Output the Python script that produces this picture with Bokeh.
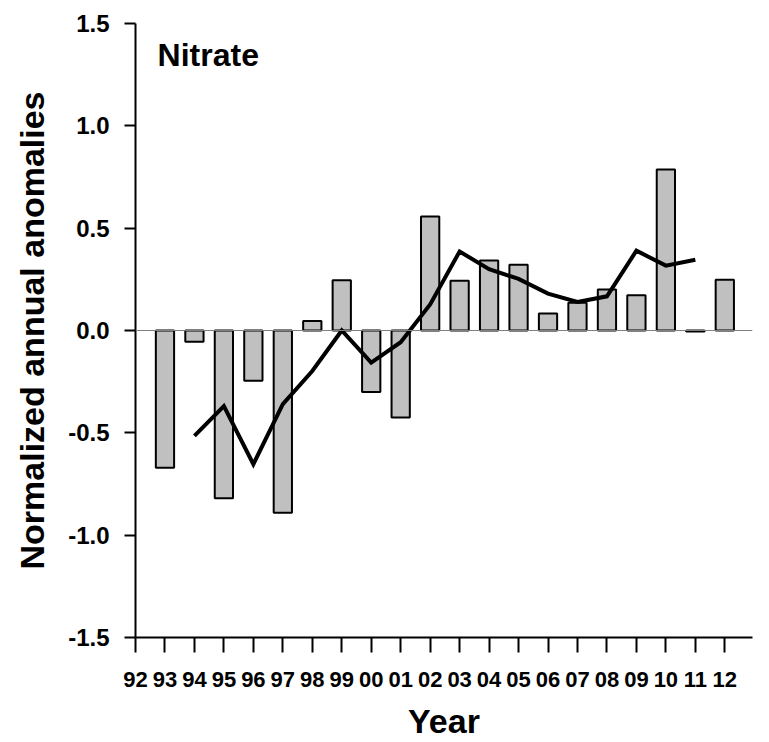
from bokeh.plotting import figure
from bokeh.models import Range1d, FixedTicker, Span, Label, ColumnDataSource
from bokeh.embed import file_html
from bokeh.resources import INLINE

# ---- data ----
year_labels = ["92", "93", "94", "95", "96", "97", "98", "99", "00", "01", "02",
               "03", "04", "05", "06", "07", "08", "09", "10", "11", "12"]
bar_years = ["93", "94", "95", "96", "97", "98", "99", "00", "01", "02",
             "03", "04", "05", "06", "07", "08", "09", "10", "11", "12"]
bar_values = [-0.67, -0.055, -0.82, -0.245, -0.89, 0.047, 0.245, -0.30, -0.425, 0.557,
              0.243, 0.342, 0.321, 0.083, 0.135, 0.20, 0.172, 0.787, -0.005, 0.248]
line_years = ["94", "95", "96", "97", "98", "99", "00", "01", "02",
              "03", "04", "05", "06", "07", "08", "09", "10", "11"]
line_values = [-0.515, -0.369, -0.653, -0.36, -0.198, 0.0, -0.157, -0.057, 0.127,
               0.386, 0.30, 0.252, 0.18, 0.14, 0.167, 0.39, 0.317, 0.346]
y_ticks = [-1.5, -1.0, -0.5, 0.0, 0.5, 1.0, 1.5]

FONT = "Liberation Sans"

idx = {lab: i for i, lab in enumerate(year_labels)}
bar_src = ColumnDataSource(dict(x=[idx[y] for y in bar_years], top=bar_values))
line_src = ColumnDataSource(dict(x=[idx[y] for y in line_years], y=line_values))

p = figure(width=762, height=742, output_backend="svg", toolbar_location=None,
           x_range=Range1d(0, 20.94), y_range=Range1d(-1.5, 1.5),
           min_border_left=135, min_border_right=10, min_border_top=23, min_border_bottom=103)
p.outline_line_color = None
p.grid.grid_line_color = None
p.background_fill_color = "white"
p.border_fill_color = "white"

p.add_layout(Span(location=0, dimension="width", line_color="#808080", line_width=1))

p.vbar(x="x", top="top", bottom=0, width=0.62, source=bar_src,
       fill_color="#c0c0c0", line_color="black", line_width=2)
p.line(x="x", y="y", source=line_src, line_color="black", line_width=4, line_join="miter")

# x axis
xa = p.xaxis[0]
xa.ticker = FixedTicker(ticks=list(range(len(year_labels))))
xa.major_label_overrides = {i: lab for i, lab in enumerate(year_labels)}
xa.major_tick_out = 15
xa.major_tick_in = 0
xa.minor_tick_out = 0
xa.minor_tick_in = 0
xa.axis_line_width = 2
xa.major_tick_line_width = 2
xa.major_label_text_font = FONT
xa.major_label_text_font_style = "bold"
xa.major_label_text_font_size = "22px"
xa.major_label_text_color = "black"
xa.major_label_standoff = 19
xa.axis_label = "Year"
xa.axis_label_text_font = FONT
xa.axis_label_text_font_style = "bold"
xa.axis_label_text_font_size = "34px"
xa.axis_label_text_color = "black"
xa.axis_label_standoff = 12

# y axis
ya = p.yaxis[0]
ya.ticker = FixedTicker(ticks=y_ticks)
ya.major_label_overrides = {t: f"{t:.1f}" for t in y_ticks}
ya.major_tick_out = 11
ya.major_tick_in = 0
ya.minor_tick_out = 0
ya.minor_tick_in = 0
ya.axis_line_width = 2
ya.major_tick_line_width = 2
ya.major_label_text_font = FONT
ya.major_label_text_font_style = "bold"
ya.major_label_text_font_size = "24px"
ya.major_label_text_color = "black"
ya.major_label_standoff = 15
ya.axis_label = "Normalized annual anomalies"
ya.axis_label_text_font = FONT
ya.axis_label_text_font_style = "bold"
ya.axis_label_text_font_size = "34px"
ya.axis_label_text_color = "black"
ya.axis_label_standoff = 14

p.add_layout(Label(x=0.75, y=1.348, text="Nitrate", text_font=FONT,
                   text_font_style="bold", text_font_size="32px", text_color="black",
                   text_baseline="middle", text_align="left"))

open("out.html", "w").write(file_html(p, INLINE))
